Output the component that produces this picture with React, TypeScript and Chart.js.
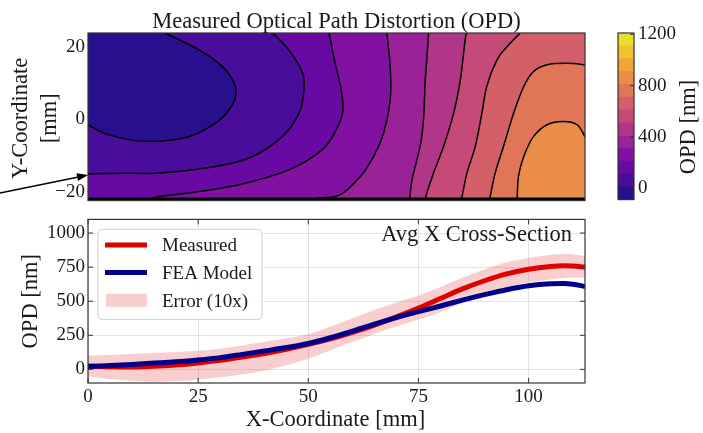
import React, { useEffect, useRef } from "react";
import { Chart, registerables } from "chart.js";

Chart.register(...registerables);

// ---------------- data ----------------
const xRange = [0, 112.8];
const yRangeMap = [-22.5, 23.9];
const yRangeProfile = [-100, 1100];

const opdLevels = [-90, 10, 110, 210, 310, 410, 510, 610, 710, 810, 910, 1010, 1110, 1210];
const colorbarTicks = [0, 400, 800, 1200];
const mapYTicks = [-20, 0, 20];
const profileXTicks = [0, 25, 50, 75, 100];
const profileYTicks = [0, 250, 500, 750, 1000];

// contour lines of the measured OPD map, (x mm, y mm)
const contour10 = [[17.5, 23.9], [25.2, 19.2], [30.5, 14.6], [33.2, 10], [33.5, 6.3], [32, 2.6], [29, -1], [22.9, -4.8], [13.1, -6.1], [4.8, -4.3], [0, -1.5]];
const contour110 = [[41.9, 23.9], [45.6, 19.2], [48.7, 12.8], [49, 8.1], [47.9, 1.7], [44.1, -4.8], [36.6, -10.7], [26.7, -13.5], [15.4, -14.9], [7.8, -14.9], [0, -15.1]];
const contour210 = [[54.7, 23.9], [56, 16], [57.5, 8], [57.8, 2], [56.3, -3], [53.2, -8.4], [45.6, -14], [34.3, -18.1], [22.9, -20.4], [16.5, -21.3], [13, -22.5]];
const contour310 = [[67.8, 23.9], [68.6, 14.6], [68.6, 5.4], [67.1, -3.8], [64.8, -10.3], [61.8, -15.8], [57.2, -20.9], [52.5, -21.8], [50, -22.5]];
const contour410 = [[77.3, 23.9], [76.8, 15], [76.5, 10], [76.2, 0.8], [75.6, -6], [74.5, -12], [73.5, -17], [73, -22.5]];
const contour510 = [[86, 23.9], [85.6, 22], [84.5, 10.9], [83, 1.7], [80.7, -7.5], [78.4, -14.9], [76.9, -20.4], [76.5, -22.5]];
const contour610 = [[98.1, 23.9], [95.1, 20.1], [92.8, 16.4], [90.5, 9.1], [89.4, 1.7], [87.9, -7.5], [86, -14.9], [84.9, -21.3], [84.5, -22.5]];
const contour710 = [[112.8, 15.1], [108.7, 15.5], [104.2, 15.1], [101.1, 13.2], [98.9, 9.1], [96.6, 1.7], [94.3, -7.5], [92.4, -14.9], [91.3, -21.3], [91, -22.5]];
const contour810 = [[97.4, -22.5], [97.7, -15.8], [98.9, -10.3], [101.1, -4.8], [104.2, -1.5], [107.9, -0.6], [111, -1.5], [112.8, -4.8]];

// average X cross-section
const xPos = [0, 5, 10, 15, 20, 25, 30, 35, 40, 45, 50, 55, 60, 65, 70, 75, 80, 85, 90, 95, 100, 105, 108, 110, 112.8];
const measured = [25, 19, 17, 22, 32, 47, 66, 90, 117, 148, 183, 224, 272, 325, 385, 450, 520, 590, 650, 700, 735, 755, 760, 759, 750];
const feaModel = [21, 28, 36, 46, 56, 69, 86, 110, 135, 160, 190, 232, 280, 332, 380, 423, 465, 508, 548, 584, 613, 628, 630, 625, 608];
const errorUpper = [100, 105, 112, 120, 127, 136, 152, 175, 202, 228, 258, 312, 375, 435, 490, 542, 605, 672, 735, 785, 816, 840, 847, 845, 830];
const errorLower = [-50, -70, -84, -90, -86, -74, -58, -38, -8, 30, 77, 140, 200, 262, 315, 365, 420, 488, 552, 603, 637, 660, 670, 673, 673];

// ---------------- styles ----------------
const FONT = '"Liberation Serif", "Times New Roman", serif';
const TXT = "#1a1a1a";
const FRAME = "#333333";
const GRID = "rgba(0,0,0,0.11)";
const RED = "#e00000";
const NAVY = "#00008b";
const PINK = "rgba(225,30,30,0.22)";
// plasma colormap sampled at the band mid-points, slightly muted
const BAND_COLORS = [
  [33, 6, 143], [71, 3, 159], [103, 0, 167], [131, 9, 165], [159, 26, 155],
  [183, 49, 138], [204, 71, 120], [220, 93, 103], [234, 117, 86], [245, 143, 69],
  [252, 169, 53], [252, 200, 40], [245, 233, 35],
].map((c) => `rgb(${c.map((v) => Math.round(v * 0.92 + 9)).join(",")})`);

type Corner = ["min" | "max", "min" | "max"];
const contourSpecs: { level: number; pts: number[][]; side: "above" | "below"; close: Corner[] }[] = [
  { level: 10, pts: contour10, side: "below", close: [["min", "max"]] },
  { level: 110, pts: contour110, side: "above", close: [["min", "min"], ["max", "min"], ["max", "max"]] },
  { level: 210, pts: contour210, side: "above", close: [["max", "min"], ["max", "max"]] },
  { level: 310, pts: contour310, side: "above", close: [["max", "min"], ["max", "max"]] },
  { level: 410, pts: contour410, side: "above", close: [["max", "min"], ["max", "max"]] },
  { level: 510, pts: contour510, side: "above", close: [["max", "min"], ["max", "max"]] },
  { level: 610, pts: contour610, side: "above", close: [["max", "min"], ["max", "max"]] },
  { level: 710, pts: contour710, side: "above", close: [["max", "min"]] },
  { level: 810, pts: contour810, side: "above", close: [["max", "min"]] },
];

const fmtTick = (v: any) => {
  const n = Number(v);
  return n < 0 ? "\u2212" + Math.abs(n) : String(n);
};

function traceSmooth(ctx: CanvasRenderingContext2D, p: number[][], move: boolean) {
  if (move) ctx.moveTo(p[0][0], p[0][1]);
  else ctx.lineTo(p[0][0], p[0][1]);
  for (let i = 0; i < p.length - 1; i++) {
    const p0 = p[Math.max(i - 1, 0)], p1 = p[i], p2 = p[i + 1], p3 = p[Math.min(i + 2, p.length - 1)];
    ctx.bezierCurveTo(
      p1[0] + (p2[0] - p0[0]) / 6, p1[1] + (p2[1] - p0[1]) / 6,
      p2[0] - (p3[0] - p1[0]) / 6, p2[1] - (p3[1] - p1[1]) / 6,
      p2[0], p2[1]
    );
  }
}

function text(ctx: CanvasRenderingContext2D, s: string, x: number, y: number, size: number, align: CanvasTextAlign, rotate = false) {
  ctx.save();
  ctx.font = `${size}px ${FONT}`;
  ctx.fillStyle = TXT;
  ctx.textAlign = align;
  ctx.textBaseline = "alphabetic";
  ctx.translate(x, y);
  if (rotate) ctx.rotate(-Math.PI / 2);
  ctx.fillText(s, 0, 0);
  ctx.restore();
}

const mapPlugin = {
  id: "opdMap",
  beforeDatasetsDraw(chart: any) {
    const { ctx, chartArea: a, scales } = chart;
    const sx = scales.x, sy = scales.y;
    const px = (p: number[]) => [sx.getPixelForValue(p[0]), sy.getPixelForValue(p[1])];
    const lim = (s: any, k: string) => (k === "min" ? s.min : s.max);
    ctx.save();
    ctx.beginPath();
    ctx.rect(a.left, a.top, a.right - a.left, a.bottom - a.top);
    ctx.clip();
    ctx.fillStyle = BAND_COLORS[opdLevels.indexOf(contourSpecs[0].level)];
    ctx.fillRect(a.left, a.top, a.right - a.left, a.bottom - a.top);
    for (const c of contourSpecs) {
      const idx = opdLevels.indexOf(c.level);
      ctx.beginPath();
      traceSmooth(ctx, c.pts.map(px), true);
      for (const k of c.close) {
        const q = px([lim(sx, k[0]), lim(sy, k[1])]);
        ctx.lineTo(q[0], q[1]);
      }
      ctx.closePath();
      ctx.fillStyle = BAND_COLORS[c.side === "above" ? idx : idx - 1];
      ctx.fill();
    }
    ctx.strokeStyle = "#000";
    ctx.lineWidth = 1.5;
    ctx.lineJoin = "round";
    for (const c of contourSpecs) {
      ctx.beginPath();
      traceSmooth(ctx, c.pts.map(px), true);
      ctx.stroke();
    }
    ctx.restore();
  },
  afterDraw(chart: any) {
    const { ctx, chartArea: a, scales } = chart;
    const sx = scales.x, sy = scales.y;
    ctx.save();
    // thick bottom contour edge
    ctx.strokeStyle = "#000";
    ctx.lineWidth = 3;
    ctx.beginPath();
    ctx.moveTo(a.left, a.bottom - 1.5);
    ctx.lineTo(a.right, a.bottom - 1.5);
    ctx.stroke();
    // frame
    ctx.strokeStyle = FRAME;
    ctx.lineWidth = 1.2;
    ctx.strokeRect(a.left, a.top, a.right - a.left, a.bottom - a.top);
    // arrow annotation
    const tail = [sx.getPixelForValue(-20), sy.getPixelForValue(-20.4)];
    const tip = [sx.getPixelForValue(0), sy.getPixelForValue(-15.4)];
    const ang = Math.atan2(tip[1] - tail[1], tip[0] - tail[0]);
    const hl = 11, hw = 4;
    const base = [tip[0] - hl * Math.cos(ang), tip[1] - hl * Math.sin(ang)];
    ctx.strokeStyle = "#000";
    ctx.fillStyle = "#000";
    ctx.lineWidth = 1.6;
    ctx.beginPath();
    ctx.moveTo(tail[0], tail[1]);
    ctx.lineTo(base[0], base[1]);
    ctx.stroke();
    ctx.beginPath();
    ctx.moveTo(tip[0], tip[1]);
    ctx.lineTo(base[0] + hw * Math.sin(ang), base[1] - hw * Math.cos(ang));
    ctx.lineTo(base[0] - hw * Math.sin(ang), base[1] + hw * Math.cos(ang));
    ctx.closePath();
    ctx.fill();
    ctx.restore();
    // texts
    const cx = (a.left + a.right) / 2;
    text(ctx, "Measured Optical Path Distortion (OPD)", cx, 27.5, 22.5, "center");
    const cy = (a.top + a.bottom) / 2 + 1.5;
    text(ctx, "Y-Coordinate", 27, cy, 22.5, "center", true);
    text(ctx, "[mm]", 56, cy, 22.5, "center", true);
  },
};

const colorbarPlugin = {
  id: "colorbarDeco",
  afterDraw(chart: any) {
    const { ctx, chartArea: a, scales } = chart;
    ctx.save();
    ctx.strokeStyle = FRAME;
    ctx.lineWidth = 1;
    for (const v of colorbarTicks) {
      const y = scales.y.getPixelForValue(v);
      ctx.beginPath();
      ctx.moveTo(a.right, y);
      ctx.lineTo(a.right - 4, y);
      ctx.stroke();
    }
    ctx.lineWidth = 1.2;
    ctx.strokeRect(a.left, a.top, a.right - a.left, a.bottom - a.top);
    ctx.restore();
    text(ctx, "OPD [nm]", 95, 127, 22.5, "center", true);
  },
};

const profilePlugin = {
  id: "profileDeco",
  afterDatasetsDraw(chart: any) {
    const { ctx, chartArea: a, scales } = chart;
    const sx = scales.x, sy = scales.y;
    ctx.save();
    // frame
    ctx.strokeStyle = FRAME;
    ctx.lineWidth = 1.2;
    ctx.strokeRect(a.left, a.top, a.right - a.left, a.bottom - a.top);
    // inward ticks
    ctx.lineWidth = 1;
    const tl = 5;
    ctx.beginPath();
    for (const v of profileXTicks) {
      const x = sx.getPixelForValue(v);
      ctx.moveTo(x, a.bottom); ctx.lineTo(x, a.bottom - tl);
      ctx.moveTo(x, a.top); ctx.lineTo(x, a.top + tl);
    }
    for (const v of profileYTicks) {
      const y = sy.getPixelForValue(v);
      ctx.moveTo(a.left, y); ctx.lineTo(a.left + tl, y);
      ctx.moveTo(a.right, y); ctx.lineTo(a.right - tl, y);
    }
    ctx.stroke();
    // legend
    const ds = chart.data.datasets;
    const lx = a.left + 10, ly = a.top + 10, lw = 164, lh = 90;
    ctx.beginPath();
    ctx.roundRect(lx, ly, lw, lh, 4);
    ctx.fillStyle = "rgba(255,255,255,0.85)";
    ctx.fill();
    ctx.strokeStyle = "#d0d0d0";
    ctx.lineWidth = 1;
    ctx.stroke();
    const entries = [
      { d: ds[1], kind: "line" },
      { d: ds[0], kind: "line" },
      { d: ds[2], kind: "patch" },
    ];
    entries.forEach((e, i) => {
      const bl = ly + 22 + i * 27.7;
      const hc = bl - 6.5;
      if (e.kind === "line") {
        ctx.strokeStyle = e.d.borderColor;
        ctx.lineWidth = 5;
        ctx.beginPath();
        ctx.moveTo(lx + 7, hc);
        ctx.lineTo(lx + 49, hc);
        ctx.stroke();
      } else {
        ctx.fillStyle = e.d.backgroundColor;
        ctx.fillRect(lx + 8, hc - 6.5, 41, 13);
      }
      text(ctx, e.d.label, lx + 64, bl, 19, "left");
    });
    ctx.restore();
    text(ctx, "Avg X Cross-Section", a.right - 13, a.top + 21.7, 22.5, "right");
  },
  afterDraw(chart: any) {
    const { ctx, chartArea: a } = chart;
    text(ctx, "X-Coordinate [mm]", (a.left + a.right) / 2 - 1, 221, 22.5, "center");
    text(ctx, "OPD [nm]", 37, (a.top + a.bottom) / 2, 22.5, "center", true);
  },
};

const tickFont = { family: FONT, size: 19 };

function makeMap(canvas: HTMLCanvasElement) {
  return new Chart(canvas, {
    type: "scatter",
    data: { datasets: [{ data: [] }] },
    options: {
      responsive: false,
      animation: false,
      events: [],
      layout: { padding: { left: 0, top: 33, right: 118, bottom: 14 } },
      plugins: { legend: { display: false }, tooltip: { enabled: false } },
      scales: {
        x: { type: "linear", min: xRange[0], max: xRange[1], display: false },
        y: {
          type: "linear",
          min: yRangeMap[0],
          max: yRangeMap[1],
          afterFit: (s: any) => { s.width = 88; },
          afterBuildTicks: (s: any) => { s.ticks = mapYTicks.map((v) => ({ value: v })); },
          grid: { display: false, drawTicks: false },
          border: { display: false },
          ticks: { padding: 3, color: TXT, font: tickFont, callback: fmtTick },
        },
      },
    } as any,
    plugins: [mapPlugin],
  });
}

function makeColorbar(canvas: HTMLCanvasElement) {
  const datasets = opdLevels.slice(0, -1).map((lo, k) => ({
    data: [[lo, opdLevels[k + 1]]],
    backgroundColor: BAND_COLORS[k],
    borderWidth: 0,
    barPercentage: 1,
    categoryPercentage: 1,
    grouped: false,
  }));
  return new Chart(canvas, {
    type: "bar",
    data: { labels: [""], datasets } as any,
    options: {
      responsive: false,
      animation: false,
      events: [],
      layout: { padding: { left: 18, top: 33, right: 0, bottom: 13 } },
      plugins: { legend: { display: false }, tooltip: { enabled: false } },
      scales: {
        x: { display: false },
        y: {
          position: "right",
          min: opdLevels[0],
          max: opdLevels[opdLevels.length - 1],
          afterFit: (s: any) => { s.width = 69; },
          afterBuildTicks: (s: any) => { s.ticks = colorbarTicks.map((v) => ({ value: v })); },
          grid: { display: false, drawTicks: false },
          border: { display: false },
          ticks: { padding: 4, color: TXT, font: tickFont, callback: fmtTick },
        },
      },
    } as any,
    plugins: [colorbarPlugin],
  });
}

function makeProfile(canvas: HTMLCanvasElement) {
  const pts = (arr: number[]) => xPos.map((x, i) => ({ x, y: arr[i] }));
  const lineBase = { pointRadius: 0, borderWidth: 5, tension: 0.4, cubicInterpolationMode: "monotone", fill: false };
  return new Chart(canvas, {
    type: "line",
    data: {
      datasets: [
        { ...lineBase, label: "FEA Model", data: pts(feaModel), borderColor: NAVY, order: 0 },
        { ...lineBase, label: "Measured", data: pts(measured), borderColor: RED, order: 1 },
        { label: "Error (10x)", data: pts(errorUpper), borderWidth: 0, borderColor: "rgba(0,0,0,0)", backgroundColor: PINK, pointRadius: 0, tension: 0.4, cubicInterpolationMode: "monotone", fill: "+1", order: 2 },
        { label: "Error lower", data: pts(errorLower), borderWidth: 0, borderColor: "rgba(0,0,0,0)", pointRadius: 0, tension: 0.4, cubicInterpolationMode: "monotone", fill: false, order: 3 },
      ],
    } as any,
    options: {
      responsive: false,
      animation: false,
      events: [],
      layout: { padding: { left: 0, top: 10, right: 118, bottom: 0 } },
      plugins: { legend: { display: false }, tooltip: { enabled: false } },
      scales: {
        x: {
          type: "linear",
          min: xRange[0],
          max: xRange[1],
          afterFit: (s: any) => { s.height = 50; },
          afterBuildTicks: (s: any) => { s.ticks = profileXTicks.map((v) => ({ value: v })); },
          grid: { color: GRID, drawTicks: false },
          border: { display: false },
          ticks: { padding: 3, color: TXT, font: tickFont, maxRotation: 0, callback: fmtTick },
        },
        y: {
          type: "linear",
          min: yRangeProfile[0],
          max: yRangeProfile[1],
          afterFit: (s: any) => { s.width = 88; },
          afterBuildTicks: (s: any) => { s.ticks = profileYTicks.map((v) => ({ value: v })); },
          grid: { color: GRID, drawTicks: false },
          border: { display: false },
          ticks: { padding: 3, color: TXT, font: tickFont, callback: fmtTick },
        },
      },
    } as any,
    plugins: [profilePlugin],
  });
}

export default function App() {
  const topRef = useRef<HTMLCanvasElement>(null);
  const cbRef = useRef<HTMLCanvasElement>(null);
  const botRef = useRef<HTMLCanvasElement>(null);
  useEffect(() => {
    const charts = [
      makeMap(topRef.current as HTMLCanvasElement),
      makeColorbar(cbRef.current as HTMLCanvasElement),
      makeProfile(botRef.current as HTMLCanvasElement),
    ];
    return () => charts.forEach((c) => c.destroy());
  }, []);
  return (
    <div style={{ position: "absolute", left: 0, top: 0, width: 703, height: 433, background: "#fff", overflow: "hidden" }}>
      <canvas ref={topRef} width={703} height={215} style={{ position: "absolute", left: 0, top: 0 }} />
      <canvas ref={cbRef} width={103} height={215} style={{ position: "absolute", left: 600, top: 0 }} />
      <canvas ref={botRef} width={703} height={228} style={{ position: "absolute", left: 0, top: 205 }} />
    </div>
  );
}
